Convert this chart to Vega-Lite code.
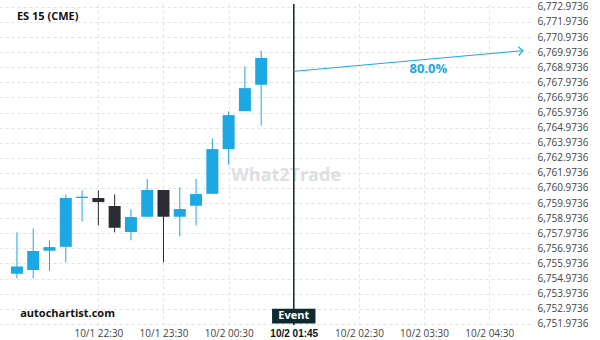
{
  "$schema": "https://vega.github.io/schema/vega-lite/v6.json",
  "width": 530,
  "height": 321,
  "padding": {"left": 0, "top": 1, "right": 0, "bottom": 0},
  "background": "white",
  "config": {
    "view": {"stroke": null},
    "font": "Open Sans",
    "axis": {"labelFont": "Open Sans", "labelFontSize": 10, "labelColor": "#444444", "domain": false, "ticks": false, "gridColor": "#e2e2e2", "gridDash": [3, 3], "gridWidth": 1}
  },
  "encoding": {
    "x": {
      "field": "t", "type": "temporal", "title": null,
      "scale": {"type": "utc", "domain": [{"year": 2025, "month": 10, "date": 1, "hours": 21, "minutes": 4, "utc": true}, {"year": 2025, "month": 10, "date": 2, "hours": 5, "minutes": 3, "utc": true}]},
      "axis": {
        "values": [
          {"year": 2025, "month": 10, "date": 1, "hours": 22, "minutes": 30, "utc": true},
          {"year": 2025, "month": 10, "date": 1, "hours": 23, "minutes": 30, "utc": true},
          {"year": 2025, "month": 10, "date": 2, "hours": 0, "minutes": 30, "utc": true},
          {"year": 2025, "month": 10, "date": 2, "hours": 1, "minutes": 30, "utc": true},
          {"year": 2025, "month": 10, "date": 2, "hours": 2, "minutes": 30, "utc": true},
          {"year": 2025, "month": 10, "date": 2, "hours": 3, "minutes": 30, "utc": true},
          {"year": 2025, "month": 10, "date": 2, "hours": 4, "minutes": 30, "utc": true}
        ],
        "labelPadding": 3,
        "labelExpr": "utchours(datum.value) == 1 ? '10/2 01:45' : utcFormat(datum.value, '%-m/%-d %H:%M')",
        "labelFontWeight": {"condition": {"test": "utchours(datum.value) == 1", "value": "bold"}, "value": "normal"},
        "labelColor": {"condition": {"test": "utchours(datum.value) == 1", "value": "#111111"}, "value": "#444444"},
        "labelFont": {"condition": {"test": "utchours(datum.value) == 1", "value": "Liberation Sans"}, "value": "Open Sans"},
        "labelFontSize": {"condition": {"test": "utchours(datum.value) == 1", "value": 10}, "value": 10}
      }
    }
  },
  "layer": [
    {
      "data": {"name": "candles", "values": [
        {"t": "2025-10-01T21:15:00Z", "open": 6755.29, "high": 6758.04, "low": 6754.99, "close": 6755.78},
        {"t": "2025-10-01T21:30:00Z", "open": 6755.54, "high": 6758.30, "low": 6754.99, "close": 6756.80},
        {"t": "2025-10-01T21:45:00Z", "open": 6756.82, "high": 6757.51, "low": 6755.49, "close": 6757.06},
        {"t": "2025-10-01T22:00:00Z", "open": 6757.08, "high": 6760.55, "low": 6756.05, "close": 6760.31},
        {"t": "2025-10-01T22:15:00Z", "open": 6760.31, "high": 6760.82, "low": 6758.76, "close": 6760.40},
        {"t": "2025-10-01T22:30:00Z", "open": 6760.31, "high": 6760.82, "low": 6758.50, "close": 6760.04},
        {"t": "2025-10-01T22:45:00Z", "open": 6759.78, "high": 6760.55, "low": 6758.04, "close": 6758.34},
        {"t": "2025-10-01T23:00:00Z", "open": 6758.06, "high": 6759.56, "low": 6757.51, "close": 6759.05},
        {"t": "2025-10-01T23:15:00Z", "open": 6759.07, "high": 6761.57, "low": 6759.03, "close": 6760.84},
        {"t": "2025-10-01T23:30:00Z", "open": 6760.84, "high": 6760.84, "low": 6756.05, "close": 6759.07},
        {"t": "2025-10-01T23:45:00Z", "open": 6759.07, "high": 6761.02, "low": 6757.77, "close": 6759.58},
        {"t": "2025-10-02T00:00:00Z", "open": 6759.80, "high": 6761.57, "low": 6758.50, "close": 6760.57},
        {"t": "2025-10-02T00:15:00Z", "open": 6760.59, "high": 6764.26, "low": 6760.59, "close": 6763.55},
        {"t": "2025-10-02T00:30:00Z", "open": 6763.55, "high": 6766.05, "low": 6762.51, "close": 6765.80},
        {"t": "2025-10-02T00:45:00Z", "open": 6766.07, "high": 6769.03, "low": 6766.05, "close": 6767.59},
        {"t": "2025-10-02T01:00:00Z", "open": 6767.81, "high": 6770.06, "low": 6765.10, "close": 6769.58}
      ]},
      "layer": [
        {
          "mark": {"type": "rule", "strokeWidth": 1},
          "encoding": {
            "y": {"field": "low", "type": "quantitative", "title": null,
              "scale": {"domain": [6751.90, 6773.16], "nice": false, "zero": false},
              "axis": {"orient": "right", "format": ",.4f", "labelPadding": 7,
                "values": [6751.9736, 6752.9736, 6753.9736, 6754.9736, 6755.9736, 6756.9736, 6757.9736, 6758.9736, 6759.9736, 6760.9736, 6761.9736, 6762.9736, 6763.9736, 6764.9736, 6765.9736, 6766.9736, 6767.9736, 6768.9736, 6769.9736, 6770.9736, 6771.9736, 6772.9736]}},
            "y2": {"field": "high"},
            "color": {"condition": {"test": "datum.close >= datum.open", "value": "#1ca8e2"}, "value": "#2c2c34"}
          }
        },
        {
          "mark": {"type": "bar", "size": 12},
          "encoding": {
            "y": {"field": "open", "type": "quantitative", "title": null,
              "scale": {"domain": [6751.90, 6773.16], "nice": false, "zero": false},
              "axis": {"orient": "right", "format": ",.4f", "labelPadding": 7,
                "values": [6751.9736, 6752.9736, 6753.9736, 6754.9736, 6755.9736, 6756.9736, 6757.9736, 6758.9736, 6759.9736, 6760.9736, 6761.9736, 6762.9736, 6763.9736, 6764.9736, 6765.9736, 6766.9736, 6767.9736, 6768.9736, 6769.9736, 6770.9736, 6771.9736, 6772.9736]}},
            "y2": {"field": "close"},
            "color": {"condition": {"test": "datum.close >= datum.open", "value": "#1ca8e2"}, "value": "#2c2c34"}
          }
        }
      ]
    },
    {
      "data": {"values": [{"t": "2025-10-02T01:23:00Z", "v": 6761.77, "label": "What2Trade"}]},
      "mark": {"type": "text", "font": "Open Sans", "fontWeight": "bold", "fontSize": 18, "color": "#cfd3d6", "opacity": 0.7, "align": "center", "baseline": "middle"},
      "encoding": {
        "y": {"field": "v", "type": "quantitative", "title": null,
          "scale": {"domain": [6751.90, 6773.16], "nice": false, "zero": false},
          "axis": {"orient": "right", "format": ",.4f", "labelPadding": 7,
            "values": [6751.9736, 6752.9736, 6753.9736, 6754.9736, 6755.9736, 6756.9736, 6757.9736, 6758.9736, 6759.9736, 6760.9736, 6761.9736, 6762.9736, 6763.9736, 6764.9736, 6765.9736, 6766.9736, 6767.9736, 6768.9736, 6769.9736, 6770.9736, 6771.9736, 6772.9736]}},
        "text": {"field": "label"}
      }
    },
    {
      "data": {"values": [{"t": "2025-10-02T01:30:00Z"}]},
      "mark": {"type": "rule", "color": "#0f2a2e", "strokeWidth": 1.5},
      "encoding": {}
    },
    {
      "data": {"values": [{"t": "2025-10-02T01:30:00Z", "v": 6768.70}, {"t": "2025-10-02T05:01:00Z", "v": 6770.07}]},
      "mark": {"type": "line", "color": "#1ca8e2", "strokeWidth": 1},
      "encoding": {
        "y": {"field": "v", "type": "quantitative", "title": null,
          "scale": {"domain": [6751.90, 6773.16], "nice": false, "zero": false},
          "axis": {"orient": "right", "format": ",.4f", "labelPadding": 7,
            "values": [6751.9736, 6752.9736, 6753.9736, 6754.9736, 6755.9736, 6756.9736, 6757.9736, 6758.9736, 6759.9736, 6760.9736, 6761.9736, 6762.9736, 6763.9736, 6764.9736, 6765.9736, 6766.9736, 6767.9736, 6768.9736, 6769.9736, 6770.9736, 6771.9736, 6772.9736]}}
      }
    },
    {
      "data": {"values": [{"t": "2025-10-02T05:01:00Z", "v": 6770.07}]},
      "mark": {"type": "point", "shape": "M-1,-1L0,0L-1,1", "size": 80, "filled": false, "color": "#1ca8e2", "strokeWidth": 1.2, "angle": 355, "opacity": 1},
      "encoding": {
        "y": {"field": "v", "type": "quantitative", "title": null,
          "scale": {"domain": [6751.90, 6773.16], "nice": false, "zero": false},
          "axis": {"orient": "right", "format": ",.4f", "labelPadding": 7,
            "values": [6751.9736, 6752.9736, 6753.9736, 6754.9736, 6755.9736, 6756.9736, 6757.9736, 6758.9736, 6759.9736, 6760.9736, 6761.9736, 6762.9736, 6763.9736, 6764.9736, 6765.9736, 6766.9736, 6767.9736, 6768.9736, 6769.9736, 6770.9736, 6771.9736, 6772.9736]}}
      }
    },
    {
      "data": {"values": [{"t": "2025-10-02T03:34:00Z", "v": 6768.88, "label": "80.0%"}]},
      "mark": {"type": "text", "font": "Open Sans", "fontWeight": "bold", "fontSize": 13, "color": "#1ca8e2", "align": "center", "baseline": "middle"},
      "encoding": {
        "y": {"field": "v", "type": "quantitative", "title": null,
          "scale": {"domain": [6751.90, 6773.16], "nice": false, "zero": false},
          "axis": {"orient": "right", "format": ",.4f", "labelPadding": 7,
            "values": [6751.9736, 6752.9736, 6753.9736, 6754.9736, 6755.9736, 6756.9736, 6757.9736, 6758.9736, 6759.9736, 6760.9736, 6761.9736, 6762.9736, 6763.9736, 6764.9736, 6765.9736, 6766.9736, 6767.9736, 6768.9736, 6769.9736, 6770.9736, 6771.9736, 6772.9736]}},
        "text": {"field": "label"}
      }
    },
    {
      "data": {"values": [{"t": "2025-10-02T01:10:00Z", "t2": "2025-10-02T01:50:00Z", "v": 6752.00, "v2": 6752.97}]},
      "mark": {"type": "rect", "color": "#0f2a2e"},
      "encoding": {
        "x2": {"field": "t2"},
        "y": {"field": "v", "type": "quantitative", "title": null,
          "scale": {"domain": [6751.90, 6773.16], "nice": false, "zero": false},
          "axis": {"orient": "right", "format": ",.4f", "labelPadding": 7,
            "values": [6751.9736, 6752.9736, 6753.9736, 6754.9736, 6755.9736, 6756.9736, 6757.9736, 6758.9736, 6759.9736, 6760.9736, 6761.9736, 6762.9736, 6763.9736, 6764.9736, 6765.9736, 6766.9736, 6767.9736, 6768.9736, 6769.9736, 6770.9736, 6771.9736, 6772.9736]}},
        "y2": {"field": "v2"}
      }
    },
    {
      "data": {"values": [{"t": "2025-10-02T01:30:00Z", "v": 6752.48, "label": "Event"}]},
      "mark": {"type": "text", "font": "Open Sans", "fontWeight": "bold", "fontSize": 11, "color": "#ffffff", "align": "center", "baseline": "middle"},
      "encoding": {
        "y": {"field": "v", "type": "quantitative", "title": null,
          "scale": {"domain": [6751.90, 6773.16], "nice": false, "zero": false},
          "axis": {"orient": "right", "format": ",.4f", "labelPadding": 7,
            "values": [6751.9736, 6752.9736, 6753.9736, 6754.9736, 6755.9736, 6756.9736, 6757.9736, 6758.9736, 6759.9736, 6760.9736, 6761.9736, 6762.9736, 6763.9736, 6764.9736, 6765.9736, 6766.9736, 6767.9736, 6768.9736, 6769.9736, 6770.9736, 6771.9736, 6772.9736]}},
        "text": {"field": "label"}
      }
    },
    {
      "data": {"values": [{"t": "2025-10-01T21:15:00Z", "v": 6772.30, "label": "ES 15 (CME)"}, {"t": "2025-10-01T21:18:00Z", "v": 6752.63, "label": "autochartist.com"}]},
      "mark": {"type": "text", "font": "Open Sans", "fontWeight": "bold", "fontSize": 11, "color": "#111111", "align": "left", "baseline": "middle"},
      "encoding": {
        "y": {"field": "v", "type": "quantitative", "title": null,
          "scale": {"domain": [6751.90, 6773.16], "nice": false, "zero": false},
          "axis": {"orient": "right", "format": ",.4f", "labelPadding": 7,
            "values": [6751.9736, 6752.9736, 6753.9736, 6754.9736, 6755.9736, 6756.9736, 6757.9736, 6758.9736, 6759.9736, 6760.9736, 6761.9736, 6762.9736, 6763.9736, 6764.9736, 6765.9736, 6766.9736, 6767.9736, 6768.9736, 6769.9736, 6770.9736, 6771.9736, 6772.9736]}},
        "text": {"field": "label"}
      }
    }
  ]
}
